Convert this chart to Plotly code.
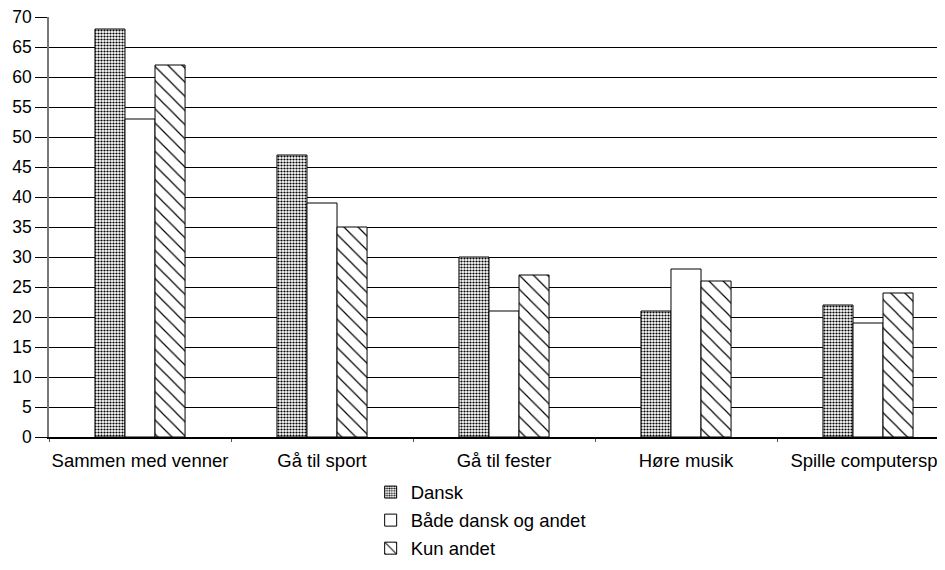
import plotly.graph_objects as go

categories = ["Sammen med venner", "Gå til sport", "Gå til fester", "Høre musik", "Spille computerspil"]
dansk = [68, 47, 30, 21, 22]
begge = [53, 39, 21, 28, 19]
kun_andet = [62, 35, 27, 26, 24]
series_names = ["Dansk", "Både dansk og andet", "Kun andet"]
y_ticks = list(range(0, 75, 5))

FONT = "Liberation Sans, Arial, sans-serif"

patterns = [
    dict(shape=".", size=3, solidity=0.42, fgcolor="black", bgcolor="white", fillmode="replace"),
    dict(shape="", fgcolor="black", bgcolor="white"),
    dict(shape="\\", size=10, solidity=0.12, fgcolor="black", bgcolor="white", fillmode="replace"),
]

fig = go.Figure()
for name, vals, pat, grp in zip(series_names, [dansk, begge, kun_andet], patterns, ["a", "b", "c"]):
    fig.add_trace(go.Bar(
        x=categories, y=vals, name=name, legendgroup=grp,
        marker=dict(color="white", line=dict(color="black", width=1), pattern=pat),
    ))

# page body has an 8px margin, so the figure is sized/shifted to compensate
fig.update_layout(
    width=937, height=562,
    margin=dict(l=41, r=0, t=9, b=133),
    paper_bgcolor="white", plot_bgcolor="white",
    barmode="group", bargap=0.505, bargroupgap=0,
    font=dict(family=FONT, size=18, color="black"),
    legend=dict(
        x=0.359, y=-0.087, xanchor="left", yanchor="top",
        font=dict(size=18.5), tracegroupgap=1, traceorder="grouped",
        bgcolor="rgba(0,0,0,0)",
    ),
    showlegend=True,
)
fig.update_xaxes(
    range=[-0.5, 4.423], showgrid=False, automargin=False, tickangle=0,
    showline=True, linecolor="black", linewidth=1.5,
    ticks="outside", tickson="boundaries", ticklen=3, tickcolor="#555",
    ticklabelstandoff=6, ticklabeloverflow="allow",
    tickfont=dict(size=18.5), fixedrange=True,
)
fig.update_yaxes(
    range=[0, 70], tickvals=y_ticks, ticktext=[str(v) for v in y_ticks],
    showgrid=True, gridcolor="black", gridwidth=1, automargin=False,
    showline=True, linecolor="#777", linewidth=1.5,
    ticks="outside", ticklen=12, tickcolor="black",
    ticklabeloverflow="allow",
    tickfont=dict(size=17.5), zeroline=False, fixedrange=True,
)

fig.write_html("out.html")
